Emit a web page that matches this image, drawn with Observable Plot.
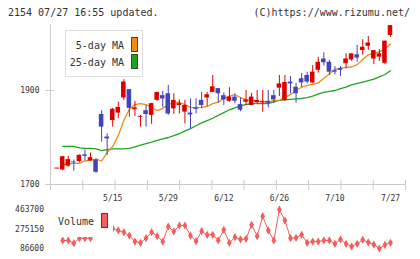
<!DOCTYPE html>
<html><head><meta charset="utf-8">
<script src="https://cdn.jsdelivr.net/npm/d3@7"></script>
<script src="https://cdn.jsdelivr.net/npm/@observablehq/plot@0.6"></script>
<style>
body{margin:0;background:#fff;}
#c{position:relative;width:420px;height:259px;overflow:hidden;font-family:"DejaVu Sans Mono",monospace;color:#333;background:#fff;}
#c svg{position:absolute;left:0;}
.t{position:absolute;font-size:10px;line-height:12px;white-space:nowrap;}
.sw{position:absolute;box-sizing:border-box;border:1px solid #444;}
</style></head><body><div id="c"></div>
<script>
// ---- data ----
const open  = [1733,1731,1739,1748,1749,1763,1750,1752,1849,1801,1836,1852,1884,1902,1859,1843,1857,1847,1879,1889,1893,1861,1868,1854,1852,1863,1879,1884,1896,1904,1889,1877,1886,1870,1875,1868,1874,1874,1877,1889,1905,1879,1918,1907,1925,1932,1916,1943,1967,1960,1942,1947,1957,1965,1976,1985,1994,1967,1971,1958,2017];
const high  = [1734,1760,1760,1752,1763,1774,1767,1754,1857,1808,1862,1875,1923,1902,1877,1847,1868,1873,1896,1898,1911,1893,1880,1879,1882,1882,1896,1896,1932,1904,1895,1906,1893,1884,1900,1894,1900,1900,1900,1900,1932,1932,1930,1915,1936,1939,1953,1971,1980,1964,1951,1951,1978,1978,1996,2008,2015,1985,1987,2005,2038];
const low   = [1733,1729,1737,1728,1746,1750,1750,1724,1790,1762,1822,1840,1879,1843,1845,1822,1822,1828,1877,1864,1847,1849,1850,1829,1818,1850,1861,1866,1896,1873,1868,1875,1872,1855,1868,1868,1872,1854,1863,1872,1887,1877,1893,1873,1906,1914,1914,1937,1952,1932,1933,1930,1946,1962,1960,1975,1985,1955,1962,1955,2013];
const close = [1735,1759,1753,1746,1762,1760,1757,1726,1822,1797,1860,1864,1918,1862,1863,1845,1849,1872,1896,1882,1850,1879,1872,1868,1848,1860,1868,1891,1908,1893,1880,1886,1877,1858,1880,1886,1879,1877,1873,1880,1914,1917,1914,1893,1916,1918,1939,1960,1959,1939,1939,1943,1967,1978,1969,1992,2001,1985,1978,2005,2038];
const ma5   = [null,1742,1744,1745,1745,1750,1752,1754,1750,1768,1781,1804,1836,1860,1870,1872,1870,1864,1857,1862,1870,1874,1875,1870,1864,1863,1864,1866,1872,1875,1883,1888,1891,1885,1880,1879,1877,1876,1875,1879,1879,1886,1891,1900,1907,1911,1913,1916,1926,1935,1945,1947,1949,1950,1955,1966,1976,1979,1982,1989,1999];
const ma25  = [null,1781,1781,1781,1778,1777,1777,1776,1772,1774,1776,1776,1776,1777,1780,1784,1787,1790,1794,1797,1800,1804,1808,1814,1819,1825,1831,1836,1841,1847,1853,1859,1863,1868,1870,1872,1872,1872,1872,1876,1879,1880,1881,1882,1883,1885,1888,1893,1896,1898,1900,1904,1907,1912,1915,1918,1921,1924,1929,1934,1942];
const volume= [null,164000,164000,138000,186000,186000,186000,241000,405000,338000,280000,261000,244000,212000,154000,142000,186000,244000,206000,154000,299000,251000,309000,309000,212000,157000,254000,219000,219000,164000,267000,142000,196000,174000,180000,316000,206000,399000,261000,164000,463700,357000,186000,190000,219000,142000,154000,154000,164000,164000,132000,174000,132000,106000,132000,171000,147000,125000,86600,122000,142000];
const dateLabels = ["5/15","5/29","6/12","6/26","7/10","7/27"];
const dateLabelIdx = [10,20,30,40,50,60];
const priceTicks = [1700,1900];
const volumeTicks = [86600,275150,463700];
const xGridTicks = [-1.2,4.61,10.42,16.23,22.04,27.85,33.65,39.46,45.27,51.08,56.89,62.7];
const xDomain = [-1.2,62.7];

const RED="#dd0000", BLUE="#4343c0", ORANGE="#f08c10", GREEN="#1ea51e", VOL="#f55c5c", AX="#cccccc", TXT="#333333";

const idx = d3.range(open.length);
const candles = idx.map(i => ({i, o: open[i], h: high[i], l: low[i], c: close[i], up: close[i] >= open[i]}));
const col = d => d.up ? RED : BLUE;

const c = document.getElementById("c");

function addText(txt, css){const d=document.createElement("div");d.className="t";d.textContent=txt;Object.assign(d.style,css);c.appendChild(d);return d;}
function addBox(css, cls){const d=document.createElement("div");if(cls)d.className=cls;d.style.position="absolute";Object.assign(d.style,css);c.appendChild(d);return d;}

const main = Plot.plot({
  width: 420, height: 205, marginLeft: 50, marginRight: 15, marginTop: 24, marginBottom: 21,
  x: {domain: xDomain, axis: null, label: null},
  y: {domain: [1700, 2040.4], axis: null, label: null},
  style: {fontFamily: "DejaVu Sans Mono, monospace", fontSize: "8px", background: "transparent", overflow: "visible"},
  marks: [
    Plot.frame({anchor: "left", stroke: AX}),
    Plot.frame({anchor: "bottom", stroke: AX}),
    Plot.axisY({ticks: priceTicks, label: null, tickSize: 9, tickPadding: 6, dx: 4, stroke: AX, fill: TXT, tickFormat: d => String(d)}),
    Plot.axisX({ticks: xGridTicks, label: null, tickSize: 10, dy: -4, stroke: AX, fill: "none", tickFormat: () => ""}),
    Plot.axisX({ticks: dateLabelIdx, label: null, tickSize: 0, tickPadding: 11, fill: TXT, tickFormat: i => dateLabels[dateLabelIdx.indexOf(i)]}),
    Plot.line(idx, {x: i => i, y: i => ma25[i], stroke: GREEN, strokeWidth: 1.3}),
    Plot.line(idx, {x: i => i, y: i => ma5[i], stroke: ORANGE, strokeWidth: 1.3}),
    Plot.ruleX(candles, {x: "i", y1: "l", y2: "h", stroke: col, strokeWidth: 1}),
    Plot.rect(candles, {x1: d => d.i - 0.41, x2: d => d.i + 0.41, y1: "o", y2: "c", fill: col})
  ]
});
main.style.top = "0px";
c.appendChild(main);

const vol = Plot.plot({
  width: 420, height: 54, marginLeft: 50, marginRight: 15, marginTop: 4, marginBottom: 11,
  x: {domain: xDomain, axis: null, label: null},
  y: {domain: [86600, 463700], axis: null, label: null},
  style: {fontFamily: "DejaVu Sans Mono, monospace", fontSize: "8px", background: "transparent", overflow: "visible"},
  marks: [
    Plot.axisY({ticks: volumeTicks, label: null, tickSize: 0, tickPadding: 6.5, fill: TXT, tickFormat: d => String(d)}),
    Plot.line(idx, {x: i => i, y: i => volume[i], stroke: VOL, strokeWidth: 1}),
    Plot.dot(idx.filter(i => volume[i] != null), {x: i => i, y: i => volume[i], symbol: "diamond", r: 2.5, fill: VOL, stroke: "none"})
  ]
});
vol.style.top = "205px";
c.appendChild(vol);

// header
addText("2154 07/27 16:55 updated.", {left: "8px", top: "6.5px", color: TXT});
addText("(C)https://www.rizumu.net/", {right: "10px", top: "6.5px", color: TXT});

// price legend
addBox({left: "65px", top: "30px", width: "78px", height: "47px", boxSizing: "border-box", border: "1px solid #dddddd", background: "#fff"});
addText("5-day MA", {right: (420-124)+"px", top: "40px", color: TXT});
addText("25-day MA", {right: (420-124)+"px", top: "57px", color: TXT});
addBox({left: "131px", top: "37px", width: "7px", height: "15px", background: ORANGE}, "sw");
addBox({left: "131px", top: "54px", width: "7px", height: "15px", background: GREEN}, "sw");

// volume legend
addBox({left: "56px", top: "207px", width: "57px", height: "29.5px", background: "#fff"});
addText("Volume", {left: "58px", top: "216px", color: TXT});
addBox({left: "101px", top: "213px", width: "7px", height: "15px", background: VOL}, "sw");
</script>
</body></html>
